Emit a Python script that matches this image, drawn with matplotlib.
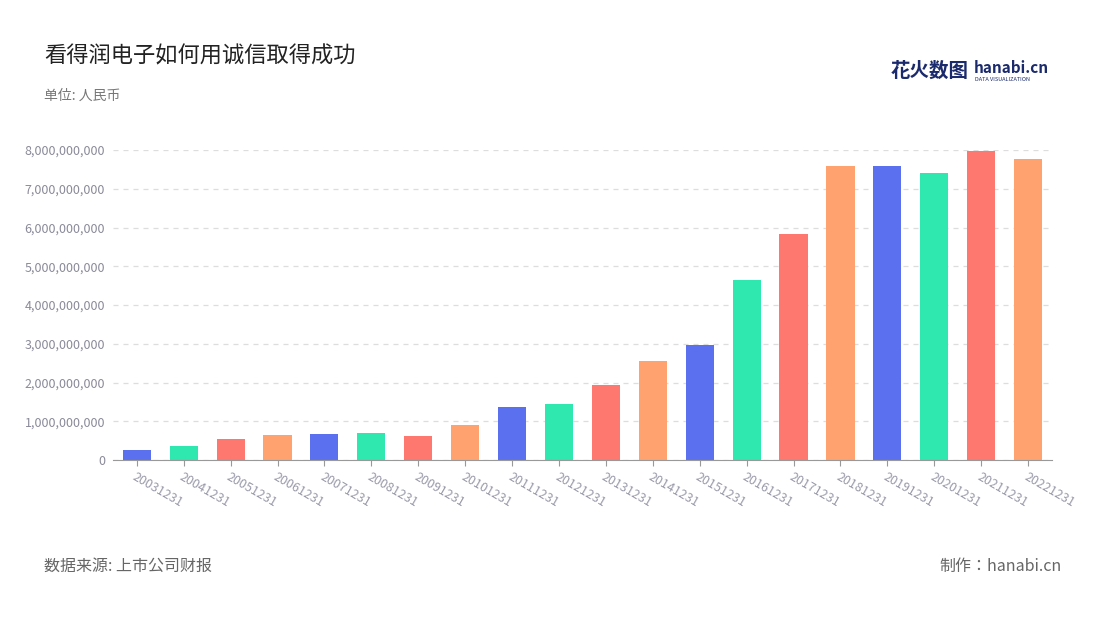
import matplotlib.pyplot as plt
from matplotlib.ticker import FuncFormatter

plt.rcParams['font.family'] = ['Noto Sans CJK JP', 'Noto Sans CJK SC',
                               'Noto Sans CJK TC', 'DejaVu Sans']

dates = ['20031231', '20041231', '20051231', '20061231', '20071231', '20081231',
         '20091231', '20101231', '20111231', '20121231', '20131231', '20141231',
         '20151231', '20161231', '20171231', '20181231', '20191231', '20201231',
         '20211231', '20221231']
revenue = [0.26e9, 0.36e9, 0.54e9, 0.65e9, 0.67e9, 0.70e9, 0.62e9, 0.90e9,
           1.37e9, 1.45e9, 1.94e9, 2.55e9, 2.97e9, 4.65e9, 5.83e9, 7.59e9,
           7.59e9, 7.41e9, 7.97e9, 7.77e9]
palette = ['#5b70ee', '#2ee8b0', '#ff7870', '#ffa270']

fig = plt.figure(figsize=(11, 6.2), dpi=100)
ax = fig.add_axes([0.103, 0.258, 0.853, 0.5])

x = range(len(dates))
colors = [palette[i % 4] for i in x]
ax.bar(x, revenue, width=0.6, color=colors, zorder=2)

ax.set_ylim(0, 8e9)
ax.set_xlim(-0.5, len(dates) - 0.5)
ax.set_yticks([i * 1e9 for i in range(9)])
ax.yaxis.set_major_formatter(FuncFormatter(lambda v, p: f'{int(v):,}'))
ax.grid(axis='y', linestyle=(0, (4, 4)), color='#dddddd', lw=0.9, zorder=0)
ax.set_xticks(list(x))
ax.set_xticklabels(dates, rotation=-30, ha='left', rotation_mode='anchor')
ax.tick_params(axis='y', length=0, labelsize=9, labelcolor='#8a8a99', pad=6)
ax.tick_params(axis='x', length=4, color='#999999', labelsize=9,
               labelcolor='#9a9aaa')
for s in ['top', 'right', 'left']:
    ax.spines[s].set_visible(False)
ax.spines['bottom'].set_color('#999999')

fig.text(0.04, 0.91, '看得润电子如何用诚信取得成功', fontsize=16, color='#222222',
         va='center')
fig.text(0.04, 0.845, '单位: 人民币', fontsize=10, color='#777777', va='center')
fig.text(0.04, 0.087, '数据来源: 上市公司财报', fontsize=11.5, color='#666666',
         va='center')
fig.text(0.965, 0.087, '制作：hanabi.cn', fontsize=11.5, color='#666666',
         va='center', ha='right')
fig.text(0.81, 0.885, '花火数图', fontsize=14, color='#1a2a6c', va='center',
         fontweight='bold')
fig.text(0.885, 0.89, 'hanabi.cn', fontsize=11, color='#1a2a6c', va='center',
         fontweight='bold')
fig.text(0.886, 0.872, 'DATA VISUALIZATION', fontsize=4, color='#1a2a6c',
         va='center')

fig.savefig('out.png', dpi=100)
